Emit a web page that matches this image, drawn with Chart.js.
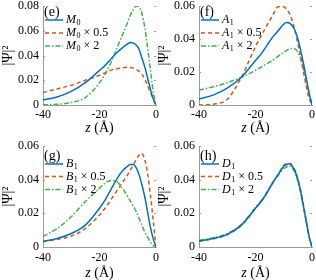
<!DOCTYPE html>
<html>
<head>
<meta charset="utf-8">
<script src="https://cdn.jsdelivr.net/npm/chart.js@4.4.1/dist/chart.umd.min.js"></script>
<style>
  html, body { margin: 0; padding: 0; background: #fff; }
  body { width: 316px; height: 280px; position: relative; overflow: hidden; }
  .panel { position: absolute; width: 160px; height: 140px; }
</style>
</head>
<body>
<div class="panel" style="left:0;top:0"><canvas id="panelE" width="160" height="140"></canvas></div>
<div class="panel" style="left:156px;top:0"><canvas id="panelF" width="160" height="140"></canvas></div>
<div class="panel" style="left:0;top:140px"><canvas id="panelG" width="160" height="140"></canvas></div>
<div class="panel" style="left:156px;top:140px"><canvas id="panelH" width="160" height="140"></canvas></div>
<script>
// z positions (Angstrom) shared by every curve
const zPoints = [-40, -35, -30, -25, -20, -18, -16, -14, -12, -10, -9, -8, -7, -6, -5, -4, -3, -2, -1, 0];

// (e) M0
const m0       = [0.004, 0.0065, 0.011, 0.018, 0.028, 0.032, 0.037, 0.042, 0.046, 0.0495, 0.0505, 0.050, 0.0485, 0.045, 0.038, 0.031, 0.022, 0.013, 0.005, 0];
const m0Half   = [0.010, 0.013, 0.016, 0.020, 0.024, 0.026, 0.028, 0.0293, 0.030, 0.0305, 0.0303, 0.0298, 0.0288, 0.0272, 0.025, 0.021, 0.016, 0.010, 0.005, 0];
const m0Double = [0.0002, 0.0006, 0.002, 0.006, 0.018, 0.025, 0.034, 0.045, 0.056, 0.067, 0.073, 0.077, 0.080, 0.079, 0.074, 0.063, 0.047, 0.029, 0.011, 0];

// (f) A1
const a1       = [0.0036, 0.006, 0.0102, 0.0168, 0.027, 0.031, 0.036, 0.041, 0.045, 0.049, 0.050, 0.0497, 0.048, 0.045, 0.040, 0.033, 0.025, 0.016, 0.007, 0];
const a1Half   = [0, 0.0005, 0.0035, 0.0168, 0.0354, 0.042, 0.048, 0.054, 0.0595, 0.0595, 0.058, 0.0555, 0.051, 0.045, 0.037, 0.029, 0.020, 0.011, 0.004, 0];
const a1Double = [0.009, 0.011, 0.0135, 0.0168, 0.021, 0.023, 0.025, 0.027, 0.0295, 0.032, 0.033, 0.034, 0.0343, 0.034, 0.032, 0.028, 0.022, 0.015, 0.007, 0];

// (g) B1
const b1       = [0.0034, 0.005, 0.008, 0.013, 0.023, 0.028, 0.034, 0.040, 0.045, 0.048, 0.049, 0.049, 0.047, 0.043, 0.037, 0.030, 0.021, 0.012, 0.005, 0];
const b1Half   = [0.0034, 0.0045, 0.0065, 0.011, 0.019, 0.023, 0.028, 0.033, 0.038, 0.043, 0.046, 0.049, 0.052, 0.0545, 0.0556, 0.052, 0.044, 0.031, 0.016, 0];
const b1Double = [0.0063, 0.011, 0.018, 0.027, 0.035, 0.038, 0.0395, 0.039, 0.035, 0.030, 0.027, 0.024, 0.021, 0.017, 0.013, 0.009, 0.006, 0.003, 0.001, 0];

// (h) D1
const d1       = [0.0035, 0.005, 0.0075, 0.013, 0.023, 0.027, 0.032, 0.038, 0.043, 0.048, 0.049, 0.0495, 0.048, 0.045, 0.040, 0.033, 0.024, 0.015, 0.006, 0];
const d1Half   = [0.0033, 0.0048, 0.0073, 0.0128, 0.0228, 0.027, 0.032, 0.038, 0.0432, 0.0485, 0.0495, 0.0497, 0.0485, 0.0455, 0.0405, 0.0335, 0.0245, 0.0152, 0.0062, 0];
const d1Double = [0.004, 0.0055, 0.008, 0.0135, 0.0235, 0.0275, 0.0325, 0.0375, 0.0425, 0.0465, 0.0475, 0.048, 0.047, 0.044, 0.039, 0.032, 0.0235, 0.0145, 0.006, 0];

const xTicks = [-40, -20, 0];
const legendFactors = ['', ' \u00d7 0.5', ' \u00d7 2'];

const serif = '"Liberation Serif", "Times New Roman", serif';
const axisColor = '#9a9a9a';
const blue = '#0072BD';
const orange = '#D95319';
const green = '#3db54a';

// labels, legend and x-title drawn by hand (italic z, subscripted names)
const decorPlugin = {
    id: 'decor',
    afterDraw(chart, args, opts) {
        const ctx = chart.ctx;
        const area = chart.chartArea;
        ctx.save();

        // small inward ticks, MATLAB style
        ctx.strokeStyle = axisColor;
        ctx.lineWidth = 1;
        ctx.setLineDash([]);
        chart.scales.y.ticks.forEach(function (t) {
            const y = Math.round(chart.scales.y.getPixelForValue(t.value)) + 0.5;
            ctx.beginPath();
            ctx.moveTo(area.left, y); ctx.lineTo(area.left + 2, y);
            ctx.moveTo(area.right, y); ctx.lineTo(area.right - 2, y);
            ctx.stroke();
        });

        ctx.fillStyle = '#000';
        ctx.textBaseline = 'middle';
        ctx.textAlign = 'left';

        // panel letter
        ctx.font = '14px ' + serif;
        ctx.fillText(opts.label, area.left + 1, area.top + opts.labelY);

        // legend rows
        chart.data.datasets.forEach(function (ds, i) {
            const y = area.top + opts.rows[i];
            ctx.strokeStyle = ds.borderColor;
            ctx.lineWidth = 1.5;
            ctx.setLineDash(ds.borderDash || []);
            ctx.beginPath();
            ctx.moveTo(area.left + 2, y);
            ctx.lineTo(area.left + 20, y);
            ctx.stroke();

            let x = area.left + 23;
            ctx.font = 'italic 12px ' + serif;
            ctx.fillText(opts.letter, x, y);
            x += ctx.measureText(opts.letter).width + 0.5;
            ctx.font = '8px ' + serif;
            ctx.fillText(opts.sub, x, y + 3);
            x += ctx.measureText(opts.sub).width;
            ctx.font = '12px ' + serif;
            ctx.fillText(legendFactors[i], x, y);
        });

        // x title: z (Å)
        const cx = (area.left + area.right) / 2;
        const ty = area.bottom + opts.titleY;
        ctx.font = 'italic 14px ' + serif;
        const zW = ctx.measureText('z').width;
        ctx.font = '14px ' + serif;
        const restW = ctx.measureText(' (\u00c5)').width;
        const tx = cx - (zW + restW) / 2;
        ctx.font = 'italic 14px ' + serif;
        ctx.fillText('z', tx, ty);
        ctx.font = '14px ' + serif;
        ctx.fillText(' (\u00c5)', tx + zW, ty);

        ctx.restore();
    }
};

function makePanel(id, cfg) {
    const pts = function (vals) {
        return zPoints.map(function (z, i) { return { x: z, y: vals[i] }; });
    };
    const lineBase = { pointRadius: 0, borderWidth: 1.5, fill: false, cubicInterpolationMode: 'monotone' };

    return new Chart(document.getElementById(id).getContext('2d'), {
        type: 'line',
        data: {
            datasets: [
                Object.assign({ data: pts(cfg.series[0]), borderColor: blue }, lineBase),
                Object.assign({ data: pts(cfg.series[1]), borderColor: orange, borderDash: [4, 3] }, lineBase),
                Object.assign({ data: pts(cfg.series[2]), borderColor: green, borderDash: [5, 2, 1.5, 2] }, lineBase)
            ]
        },
        options: {
            responsive: false,
            animation: false,
            devicePixelRatio: 1,
            layout: { padding: { left: 0, right: 4, top: cfg.top, bottom: 0 } },
            plugins: {
                legend: { display: false },
                tooltip: { enabled: false },
                decor: { label: cfg.label, letter: cfg.letter, sub: cfg.sub, rows: cfg.rows, labelY: cfg.labelY, titleY: cfg.titleY }
            },
            scales: {
                x: {
                    type: 'linear',
                    min: -40,
                    max: 0,
                    afterBuildTicks: function (s) { s.ticks = xTicks.map(function (v) { return { value: v }; }); },
                    ticks: {
                        autoSkip: false,
                        maxRotation: 0,
                        padding: cfg.xPad,
                        color: '#000',
                        font: { family: serif, size: 12 },
                        callback: function (v) { return String(v); }
                    },
                    grid: { display: false, drawTicks: false },
                    border: { display: true, color: axisColor, width: 1 },
                    afterFit: function (s) { s.height = cfg.xAxisH; s.paddingLeft = 0; s.paddingRight = 0; }
                },
                y: {
                    min: 0,
                    max: cfg.yMax,
                    ticks: {
                        stepSize: 0.02,
                        padding: 4,
                        color: '#000',
                        font: { family: serif, size: 12 },
                        callback: function (v) { return v === 0 ? '0' : v.toFixed(2); }
                    },
                    grid: { display: false, drawTicks: false },
                    border: { display: true, color: axisColor, width: 1 },
                    title: {
                        display: true,
                        text: '|\u03a8|\u00b2',
                        color: '#000',
                        font: { family: serif, size: 14 },
                        padding: { top: 0, bottom: 0 }
                    },
                    afterFit: function (s) { s.width = 43; s.paddingTop = 0; s.paddingBottom = 0; }
                }
            }
        },
        plugins: [decorPlugin]
    });
}

document.addEventListener('DOMContentLoaded', function () {
    const topRow = { top: 6, xAxisH: 35, rows: [14, 27, 40], labelY: 6.5, titleY: 23, xPad: 3 };
    const bottomRow = { top: 6, xAxisH: 33, rows: [18, 30.5, 43.5], labelY: 10, titleY: 26, xPad: 4 };

    makePanel('panelE', Object.assign({ label: '(e)', letter: 'M', sub: '0', yMax: 0.08, series: [m0, m0Half, m0Double] }, topRow));
    makePanel('panelF', Object.assign({ label: '(f)', letter: 'A', sub: '1', yMax: 0.06, series: [a1, a1Half, a1Double] }, topRow));
    makePanel('panelG', Object.assign({ label: '(g)', letter: 'B', sub: '1', yMax: 0.06, series: [b1, b1Half, b1Double] }, bottomRow));
    makePanel('panelH', Object.assign({ label: '(h)', letter: 'D', sub: '1', yMax: 0.06, series: [d1, d1Half, d1Double] }, bottomRow));
});
</script>
</body>
</html>
